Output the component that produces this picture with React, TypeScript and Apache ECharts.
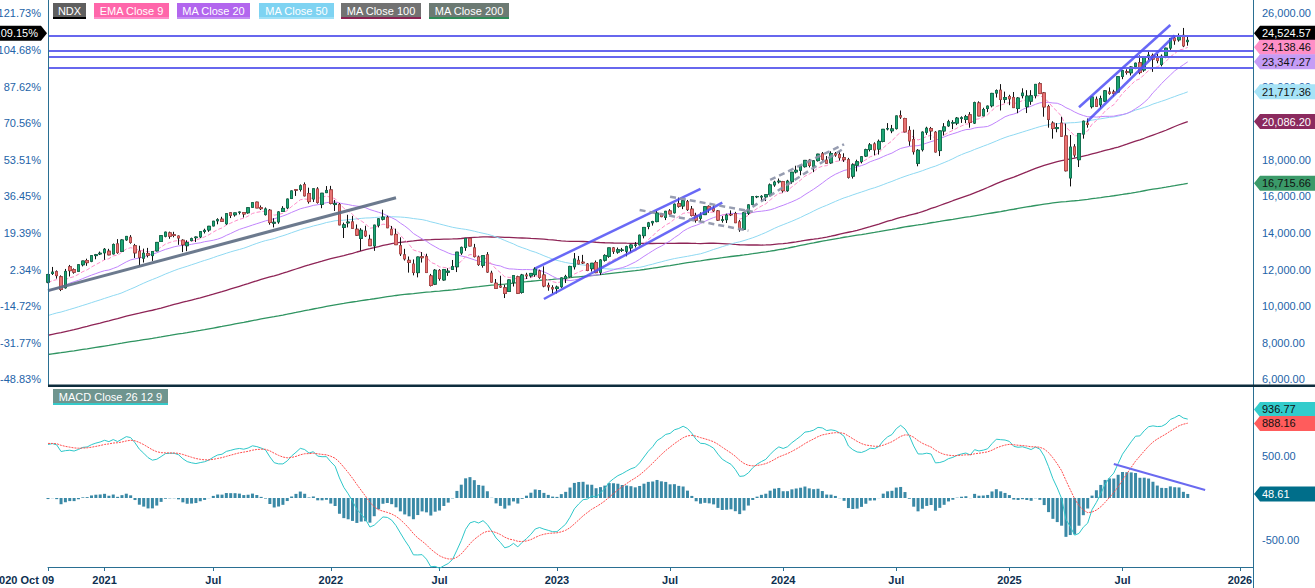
import React, { useEffect, useRef } from "react";
import * as echarts from "echarts";

const FONT = "'Liberation Sans', Arial, sans-serif";
const FS = 11;

// Weekly closes before the first visible bar (only used to warm up the averages and MACD)
const priorCloses2016 = [4930, 4940, 4864];
const priorCloses2017 = [4960, 5010, 5050, 5110, 5120, 5200, 5250, 5300, 5360, 5380, 5390, 5350, 5436, 5420, 5370, 5420, 5570, 5600, 5650, 5590, 5750, 5830, 5700, 5670, 5720, 5650, 5700, 5830, 5920, 5880, 5870, 5770, 5760, 5850, 5980, 5950, 5990, 5950, 5980, 6060, 6090, 6100, 6250, 6320, 6300, 6320, 6400, 6340, 6330, 6440, 6420, 6396];
const priorCloses2018 = [6650, 6800, 6880, 7050, 6770, 6450, 6770, 6880, 6800, 7140, 7010, 6500, 6580, 6460, 6650, 6680, 6600, 6770, 6940, 6870, 6990, 7090, 7150, 7200, 7130, 7040, 7170, 7400, 7350, 7220, 7300, 7340, 7300, 7450, 7660, 7510, 7510, 7470, 7630, 7450, 7250, 7050, 6800, 6970, 6950, 6730, 6530, 6950, 6640, 6600, 5900, 6150];
const priorCloses2019 = [6350, 6600, 6780, 6760, 6900, 6930, 7080, 7120, 7100, 6920, 7300, 7210, 7380, 7500, 7570, 7590, 7780, 7850, 7520, 7460, 7310, 7130, 7430, 7490, 7600, 7670, 7800, 7920, 7830, 7960, 7740, 7640, 7650, 7490, 7690, 7860, 7900, 7880, 7700, 7780, 7850, 7930, 8020, 8200, 8280, 8370, 8300, 8400, 8400, 8500, 8700, 8760];
const priorCloses2020 = [8790, 8970, 9170, 9090, 8990, 9400, 9620, 9450, 8460, 8530, 7900, 6990, 7500, 7530, 8230, 8830, 8780, 8720, 9210, 9150, 9320, 9560, 9820, 9590, 10030, 9850, 10280, 10770, 10500, 10460, 10910, 11140, 11190, 11630, 12060, 11630, 11090, 10940, 11150, 11330];

// Visible weekly bars [open, high, low, close], from 2020-10-09
const bars2020 = [
  [11310, 11760, 11250, 11725.85], [11780, 12140, 11700, 11860], [11880, 11950, 11500, 11666], [11600, 11680, 10820, 10911],
  [11000, 12030, 10960, 11895], [12150, 12250, 11620, 11937], [11990, 12060, 11770, 11854], [11900, 12270, 11880, 12258],
  [12260, 12470, 12170, 12464], [12490, 12590, 12200, 12375], [12450, 12790, 12400, 12756], [12760, 12850, 12560, 12805],
  [12850, 12980, 12790, 12888],
];
const bars2021 = [
  [12910, 13170, 12530, 13105], [13000, 13130, 12780, 12803], [12850, 13420, 12830, 13367], [13400, 13660, 12860, 12925],
  [12990, 13650, 12960, 13613], [13620, 13830, 13570, 13808], [13760, 13880, 13410, 13475], [13300, 13400, 12630, 12909],
  [13000, 13300, 12210, 12668], [12620, 13140, 12380, 12889], [12870, 13180, 12660, 12780], [12760, 12990, 12470, 12984],
  [13020, 13500, 12990, 13480], [13530, 13850, 13520, 13846], [13820, 14060, 13760, 14041], [14000, 14070, 13680, 13818],
  [13900, 14060, 13760, 13860], [13830, 13850, 13350, 13720], [13600, 13650, 12950, 13355], [13300, 13600, 13000, 13470],
  [13580, 13740, 13540, 13686], [13740, 13800, 13500, 13773], [13780, 14080, 13720, 14069], [14080, 14230, 13970, 14139],
  [14160, 14380, 14060, 14360], [14380, 14640, 14370, 14639], [14660, 14800, 14470, 14720], [14750, 14880, 14600, 14634],
  [14500, 15070, 14440, 15050], [15100, 15120, 14810, 14960], [14990, 15100, 14890, 15092], [15130, 15160, 15010, 15132],
  [15110, 15140, 14840, 15032], [15100, 15400, 15050, 15374], [15400, 15680, 15380, 15653], [15680, 15700, 15360, 15365],
  [15380, 15500, 15250, 15325], [15000, 15390, 14950, 15308], [15240, 15300, 14450, 14567], [14530, 14800, 14300, 14580],
  [14600, 15180, 14500, 15146], [15170, 15460, 15150, 15337], [15370, 15860, 15300, 15850], [15880, 16310, 15850, 16294],
  [16360, 16380, 16020, 16336], [16370, 16650, 16260, 16573], [16640, 16760, 16000, 16026], [16150, 16470, 15600, 15712],
  [15850, 16410, 15690, 16410], [16400, 16500, 15600, 15666], [15560, 16170, 15350, 16167], [16200, 16560, 16200, 16320],
];
const bars2022 = [
  [16350, 16570, 15560, 15612], [15550, 15800, 15200, 15611], [15550, 15630, 14430, 14438], [14300, 14560, 13720, 14440],
  [14550, 14990, 14300, 14592], [14600, 14930, 14250, 14253], [14200, 14460, 13840, 13878], [13700, 14260, 13020, 14142],
  [14100, 14390, 13780, 13838], [13650, 13900, 13300, 13302], [13290, 14430, 13020, 14426], [14420, 14790, 14300, 14767],
  [14750, 15270, 14680, 14862], [14850, 14940, 14280, 14281], [14200, 14380, 13890, 13898], [13920, 14230, 13350, 13357],
  [13300, 13760, 12740, 12855], [12800, 13130, 12490, 12581], [12500, 12710, 11830, 12387], [12300, 12550, 11680, 11835],
  [11830, 12700, 11570, 12682], [12700, 12950, 12380, 12644], [12700, 12860, 11830, 11834], [11650, 11760, 11070, 11128],
  [11200, 12020, 11150, 11960], [11950, 12020, 11390, 11507], [11430, 12030, 11390, 11994], [11850, 12070, 11650, 11910],
  [12000, 12520, 11980, 12159], [12150, 12950, 11860, 12947], [12900, 13250, 12800, 13207], [13200, 13720, 13020, 13700],
  [13700, 13720, 13270, 13285], [13180, 13400, 12660, 12705], [12680, 12760, 12200, 12270], [12230, 12780, 12100, 12759],
  [12800, 12950, 11820, 11861], [11800, 11930, 11290, 11311], [11250, 11480, 10970, 10971], [11100, 11660, 10990, 11040],
  [11000, 11170, 10440, 10693], [10800, 11450, 10790, 11430], [11300, 11670, 11070, 11666], [11600, 11660, 10660, 10700],
  [10750, 11760, 10680, 11700], [11700, 11820, 11480, 11650], [11650, 11800, 11560, 11785], [11720, 12120, 11600, 12022],
  [11920, 11990, 11490, 11566], [11700, 12170, 11030, 11100], [11130, 11280, 10840, 11052], [11000, 11140, 10690, 10940],
];
const bars2023 = [
  [10960, 11120, 10690, 11040], [11060, 11560, 11000, 11540], [11500, 11710, 11260, 11620], [11600, 12200, 11560, 12167],
  [12150, 12900, 12000, 12574], [12500, 12740, 12290, 12305], [12400, 12800, 12300, 12358], [12300, 12350, 11910, 11950],
  [12050, 12350, 11890, 12340], [12380, 12490, 11800, 11830], [11850, 12560, 11700, 12520], [12510, 12830, 12430, 12767],
  [12720, 13180, 12640, 13181], [13180, 13230, 12850, 13000], [12950, 13200, 12860, 13080], [13050, 13180, 12960, 13060],
  [13000, 13300, 12720, 13246], [13180, 13370, 12950, 13339], [13320, 13500, 13200, 13340], [13350, 13900, 13320, 13874],
  [13850, 14300, 13700, 14298], [14350, 14600, 14200, 14547], [14550, 14660, 14400, 14619], [14620, 15200, 14580, 15083],
  [15060, 15090, 14860, 14891], [14850, 15200, 14700, 15179], [15200, 15300, 14990, 15035], [15100, 15600, 15060, 15566],
  [15600, 15930, 15380, 15457], [15470, 15800, 15300, 15757], [15700, 15800, 15200, 15274], [15300, 15470, 14900, 14950],
  [14950, 15100, 14560, 14694], [14800, 15120, 14600, 14941], [15000, 15470, 14990, 15431], [15450, 15500, 15100, 15290],
  [15340, 15500, 15150, 15203], [15200, 15250, 14660, 14701], [14690, 14920, 14560, 14715], [14720, 15050, 14540, 14974],
  [15000, 15230, 14920, 14996], [15050, 15150, 14550, 14558], [14600, 14700, 14060, 14180], [14200, 15120, 14150, 15099],
  [15080, 15550, 14980, 15530], [15550, 16000, 15530, 15983], [15980, 16030, 15900, 15982], [15960, 16060, 15750, 15997],
  [15970, 16100, 15740, 16085], [16100, 16700, 16000, 16623], [16620, 16850, 16520, 16777], [16790, 16970, 16700, 16826],
];
const bars2024 = [
  [16800, 16840, 16200, 16305], [16310, 16900, 16250, 16832], [16800, 17330, 16680, 17314], [17330, 17670, 17250, 17421],
  [17420, 17670, 17150, 17642], [17620, 17970, 17570, 17962], [17970, 18040, 17580, 17685], [17640, 17980, 17320, 17937],
  [17950, 18320, 17900, 18302], [18320, 18420, 17950, 18019], [17980, 18200, 17800, 17808], [17830, 18460, 17780, 18339],
  [18320, 18420, 18160, 18255], [18280, 18470, 17950, 18108], [18110, 18350, 17880, 18003], [18000, 18100, 16970, 17037],
  [17100, 17800, 16970, 17718], [17700, 18000, 17360, 17890], [17900, 18200, 17800, 18161], [18200, 18600, 18150, 18546],
  [18560, 18910, 18450, 18808], [18860, 18950, 18240, 18537], [18580, 19100, 18280, 19000], [19000, 19670, 18950, 19659],
  [19680, 20000, 19600, 19700], [19580, 19900, 19450, 19683], [19700, 20400, 19650, 20392], [20400, 20690, 20230, 20331],
  [20250, 20290, 19500, 19523], [19600, 19830, 18760, 19023], [19100, 19640, 18280, 18440], [17800, 18580, 17640, 18513],
  [18550, 19540, 18450, 19508], [19500, 19800, 19360, 19720], [19700, 19790, 19080, 19575], [19500, 19560, 18400, 18421],
  [18500, 19590, 18200, 19573], [19570, 20000, 19320, 19791], [19850, 20180, 19800, 20073], [20000, 20160, 19670, 20034],
  [20000, 20330, 19890, 20272], [20250, 20370, 20010, 20290], [20200, 20450, 20000, 20352], [20450, 20600, 19750, 20033],
  [20000, 21170, 19950, 21118], [21100, 21190, 20380, 20394], [20400, 20840, 20380, 20744], [20800, 20950, 20600, 20930],
  [20950, 21650, 20860, 21622], [21640, 21840, 21400, 21780], [21800, 22130, 20690, 21289], [21300, 21720, 21100, 21393],
];
const bars2025 = [
  [21450, 21550, 20980, 21326], [21400, 21700, 20850, 20847], [20800, 21420, 20540, 21370], [21500, 21900, 21350, 21641],
  [20900, 21800, 20550, 21478], [21200, 21800, 21000, 21491], [21500, 22130, 21350, 22115], [22150, 22230, 21600, 21614],
  [21650, 21700, 20350, 20884], [20900, 21000, 19750, 20202], [20000, 20100, 19150, 19704], [19700, 20000, 19500, 19754],
  [20000, 20350, 19280, 19281], [19300, 19970, 17360, 17397], [17000, 19350, 16540, 18690], [18700, 18850, 18120, 18258],
  [18000, 19450, 17600, 19433], [19400, 20130, 19150, 20103], [20000, 20250, 19750, 19929], [20900, 21460, 20800, 21427],
  [21300, 21450, 20880, 20915], [21000, 21500, 20800, 21340], [21200, 21800, 21150, 21761], [21700, 21950, 21550, 21631],
  [21700, 21820, 21450, 21626], [21700, 22550, 21650, 22534], [22550, 22880, 22400, 22867], [22800, 22940, 22650, 22780],
  [22750, 23100, 22600, 23066], [23100, 23300, 22950, 23272], [23300, 23700, 22670, 22763], [22900, 23650, 22800, 23611],
  [23650, 23960, 23450, 23713], [23700, 23800, 22800, 23498], [23550, 23780, 23270, 23415], [23200, 23750, 23100, 23653],
  [23700, 24120, 23550, 24092], [24100, 24650, 24000, 24627], [24650, 24800, 24280, 24504], [24550, 24900, 24450, 24785],
  [24800, 25200, 24150, 24221], [24450, 24780, 24230, 24524.57],
];

// Last values shown in the axis tags
const priceTagValues = [24524.57, 24138.46, 23347.27, 21717.36, 20086.2, 16715.66];
const macdTagValues = [936.77, 888.16, 48.61];
// Right-axis tick values that sit fully behind a tag
const coveredPriceTicks = [20000, 24000];

// Horizontal levels and drawn trend lines: [bar index, price] pairs
const horizontalLevels = [24776, 23956, 23612, 23027];
const solidGrayLines = [[0, 10843, 80, 15924]];
const blueLines = [
  [112, 12067, 150, 16400],
  [114, 10389, 155, 15651],
  [237, 20864, 258, 25361],
  [239, 20115, 259, 24787],
];
const dashedGrayLines = [
  [143, 15979, 162, 15160],
  [136, 15252, 161, 14121],
  [166, 16892, 183, 18842],
  [160, 15127, 183, 18624],
];
const macdTrendLine = [245, 405, 266, 95];

// x axis
const FIRST_LABEL = "2020 Oct 09";
const SLOT_COUNT = 278;
const yearTickDates = ["2021-01-08", "2022-01-07", "2023-01-06", "2024-01-05", "2025-01-03", "2026-01-09"];
const julyTickDates = ["2021-07-02", "2022-07-01", "2023-07-07", "2024-07-05", "2025-07-04"];

const legendNames = ["NDX", "EMA Close 9", "MA Close 20", "MA Close 50", "MA Close 100", "MA Close 200"];
const macdName = "MACD Close 26 12 9";

export default function App() {
  const ref = useRef<HTMLDivElement>(null);

  useEffect(() => {
    document.body.style.margin = "0";
    const chart = echarts.init(ref.current!, null, { renderer: "svg" });

    const bars = [...bars2020, ...bars2021, ...bars2022, ...bars2023, ...bars2024, ...bars2025];
    const prior = [...priorCloses2016, ...priorCloses2017, ...priorCloses2018, ...priorCloses2019, ...priorCloses2020];
    const closes = bars.map((b) => b[3]);
    const all = [...prior, ...closes];
    const P = prior.length;
    const base = closes[0];

    const dates: string[] = [];
    for (let i = 0; i < SLOT_COUNT; i++) {
      dates.push(new Date(Date.UTC(2020, 9, 9 + 7 * i)).toISOString().slice(0, 10));
    }
    const yearSet = new Set(yearTickDates);
    const julSet = new Set(julyTickDates);
    const labelFor = (idx: number) =>
      idx === 0 ? FIRST_LABEL : yearSet.has(dates[idx]) ? dates[idx].slice(0, 4) : julSet.has(dates[idx]) ? "Jul" : "";

    const sma = (n: number) =>
      closes.map((_, i) => {
        const j = P + i;
        let s = 0;
        for (let k = j - n + 1; k <= j; k++) s += all[k];
        return +(s / n).toFixed(2);
      });
    const ema = (arr: number[], n: number) => {
      const a = 2 / (n + 1);
      const out: number[] = [];
      let e = arr[0];
      arr.forEach((v, i) => {
        e = i === 0 ? v : a * v + (1 - a) * e;
        out.push(e);
      });
      return out;
    };
    const ema9 = ema(all, 9).slice(P).map((v) => +v.toFixed(2));
    const e12 = ema(all, 12);
    const e26 = ema(all, 26);
    const macdAll = e12.map((v, i) => v - e26[i]);
    const sigAll = ema(macdAll, 9);
    const macd = macdAll.slice(P).map((v) => +v.toFixed(2));
    const signal = sigAll.slice(P).map((v) => +v.toFixed(2));
    const histo = macd.map((v, i) => +(v - signal[i]).toFixed(2));

    const wickData = bars.map(([o, h, l, c]) => [o, c, l, h]);
    const bodyData = bars.map(([o, , , c]) => [o, c, Math.min(o, c), Math.max(o, c)]);

    const seg = (s: number[], style: any) => [
      { coord: [s[0], s[1]], lineStyle: style },
      { coord: [s[2], s[3]] },
    ];
    const blueStyle = { color: "#4f4ff5", width: 2.5, type: "solid", opacity: 0.85 };
    const grayStyle = { color: "#5c6b82", width: 3, type: "solid", opacity: 0.9 };
    const dashStyle = { color: "#8c92a8", width: 2.5, type: [6, 4], opacity: 0.9 };
    const levelStyle = { color: "#6767ee", width: 2, type: "solid" };

    const axisColor = "#2a6f92";
    const labelColor = "#2363a8";
    const gridBase = { left: 48, width: 1205, containLabel: false, outerBoundsMode: "none" };
    const hiddenX = (gridIndex: number) => ({
      type: "category",
      gridIndex,
      data: dates,
      boundaryGap: false,
      show: false,
    });
    const fmt = (v: number) => v.toLocaleString("en-US", { minimumFractionDigits: 2, maximumFractionDigits: 2 });
    const xLabelStyle = { color: "#0d2f4f", fontWeight: "bold", fontSize: FS, fontFamily: FONT };
    const yLabelStyle = { color: labelColor, fontSize: FS, fontFamily: FONT };

    const option: any = {
      animation: false,
      backgroundColor: "#ffffff",
      textStyle: { fontFamily: FONT },
      grid: [
        { ...gridBase, top: 13.3, height: 366 },
        { ...gridBase, top: 414, height: 168 },
        { ...gridBase, top: 386, height: 181 },
      ],
      xAxis: [
        hiddenX(0),
        hiddenX(1),
        {
          type: "category",
          gridIndex: 2,
          data: dates,
          boundaryGap: false,
          axisLine: { show: true, lineStyle: { color: axisColor, width: 1 } },
          axisTick: { show: true, length: 4, interval: (idx: number) => labelFor(idx) !== "", lineStyle: { color: axisColor } },
          axisLabel: {
            interval: (idx: number) => labelFor(idx) !== "",
            formatter: (_v: string, idx: number) => (idx === 0 ? `{first|${FIRST_LABEL}}` : labelFor(idx)),
            ...xLabelStyle,
            margin: 7,
            alignMinLabel: "right",
            showMinLabel: true,
            rich: { first: { ...xLabelStyle, width: 55, align: "left" } },
          },
          splitLine: { show: false },
        },
      ],
      yAxis: [
        {
          type: "value",
          gridIndex: 0,
          position: "right",
          min: 6000,
          max: 26000,
          interval: 2000,
          axisLine: { show: false },
          axisTick: { show: false },
          splitLine: { show: false },
          axisLabel: {
            ...yLabelStyle,
            margin: 9,
            formatter: (v: number) => (coveredPriceTicks.includes(v) ? "" : fmt(v)),
          },
        },
        {
          type: "value",
          gridIndex: 0,
          position: "left",
          min: 6000,
          max: 26000,
          interval: 2000,
          axisLine: { show: false },
          axisTick: { show: false },
          splitLine: { show: false },
          axisLabel: {
            ...yLabelStyle,
            margin: 7,
            formatter: (v: number) => ((v / base - 1) * 100).toFixed(2) + "%",
          },
        },
        {
          type: "value",
          gridIndex: 1,
          position: "right",
          min: -1000,
          max: 1000,
          interval: 500,
          axisLine: { show: false },
          axisTick: { show: false },
          splitLine: { show: false },
          axisLabel: {
            ...yLabelStyle,
            margin: 9,
            formatter: (v: number) => (Math.abs(v) === 500 ? v.toFixed(2) : ""),
          },
        },
        { type: "value", gridIndex: 2, show: false, min: 0, max: 1 },
      ],
      series: [
        { name: "MA Close 200", type: "line", xAxisIndex: 0, yAxisIndex: 0, data: sma(200), symbol: "none", z: 2, lineStyle: { color: "#2f9461", width: 1.3 } },
        { name: "MA Close 100", type: "line", xAxisIndex: 0, yAxisIndex: 0, data: sma(100), symbol: "none", z: 2, lineStyle: { color: "#8e2456", width: 1.3 } },
        { name: "MA Close 50", type: "line", xAxisIndex: 0, yAxisIndex: 0, data: sma(50), symbol: "none", z: 2, lineStyle: { color: "#8fd9f2", width: 1 } },
        { name: "MA Close 20", type: "line", xAxisIndex: 0, yAxisIndex: 0, data: sma(20), symbol: "none", z: 2, lineStyle: { color: "#c084fc", width: 1 } },
        { name: "EMA Close 9", type: "line", xAxisIndex: 0, yAxisIndex: 0, data: ema9, symbol: "none", z: 2, lineStyle: { color: "#ff8cc8", width: 1, type: [4, 2] } },
        {
          name: "NDX wicks",
          type: "candlestick",
          xAxisIndex: 0,
          yAxisIndex: 0,
          data: wickData,
          barWidth: 3,
          z: 3,
          itemStyle: { color: "#111", color0: "#111", borderColor: "#111", borderColor0: "#111", borderWidth: 1 },
        },
        {
          name: "NDX",
          type: "candlestick",
          xAxisIndex: 0,
          yAxisIndex: 0,
          data: bodyData,
          barWidth: 3,
          z: 4,
          itemStyle: { color: "#1ea574", color0: "#e87474", borderColor: "#127a55", borderColor0: "#c24e4e", borderWidth: 0.8 },
          markLine: {
            symbol: ["none", "none"],
            silent: true,
            animation: false,
            label: { show: false },
            emphasis: { disabled: true },
            data: [
              ...horizontalLevels.map((v) => ({ yAxis: v, lineStyle: levelStyle })),
              ...solidGrayLines.map((s) => seg(s, grayStyle)),
              ...blueLines.map((s) => seg(s, blueStyle)),
              ...dashedGrayLines.map((s) => seg(s, dashStyle)),
            ],
          },
        },
        {
          name: "Histogram",
          type: "bar",
          xAxisIndex: 1,
          yAxisIndex: 2,
          data: histo,
          barWidth: 3,
          itemStyle: { color: "#3a89a6" },
          z: 2,
          markLine: {
            symbol: ["none", "none"],
            silent: true,
            animation: false,
            label: { show: false },
            data: [seg(macdTrendLine, { color: "#6a6af0", width: 2, type: "solid" })],
          },
        },
        { name: "MACD", type: "line", xAxisIndex: 1, yAxisIndex: 2, data: macd, symbol: "none", z: 3, lineStyle: { color: "#2ec7c9", width: 1 } },
        { name: "Signal", type: "line", xAxisIndex: 1, yAxisIndex: 2, data: signal, symbol: "none", z: 3, lineStyle: { color: "#ff4d4d", width: 1, type: [2, 1] } },
      ],
    };

    chart.setOption(option);

    const toY = (axis: number, v: number) => chart.convertToPixel({ yAxisIndex: axis } as any, v) as number;
    const spread = (ys: number[], gap: number) => {
      const out = ys.slice();
      for (let k = out.length - 2; k >= 0; k--) if (out[k + 1] - out[k] < gap) out[k] = out[k + 1] - gap;
      return out;
    };
    const txt = (x: number, y: number, text: string, fill: string, align = "left") => ({
      type: "text",
      x,
      y,
      z: 101,
      style: { text, fill, font: `${FS}px ${FONT}`, textAlign: align, align, textVerticalAlign: "middle", verticalAlign: "middle" },
    });
    const rightTag = (y: number, text: string, bg: string, fg: string) => [
      {
        type: "polygon",
        z: 100,
        shape: { points: [[1254, y], [1260, y - 7.5], [1315, y - 7.5], [1315, y + 7.5], [1260, y + 7.5]] },
        style: { fill: bg },
      },
      txt(1262, y, text, fg),
    ];

    const priceColors = [
      ["#000000", "#ffffff"],
      ["#ff8fc7", "#111111"],
      ["#c59cf5", "#111111"],
      ["#a6e3f7", "#111111"],
      ["#8b2a5e", "#ffffff"],
      ["#3b9a69", "#111111"],
    ];
    const macdColors = [
      ["#33cccc", "#111111"],
      ["#ff5c5c", "#111111"],
      ["#006e8a", "#ffffff"],
    ];
    const priceYs = spread(priceTagValues.map((v) => toY(0, v)), 14);
    const macdYs = spread(macdTagValues.map((v) => toY(2, v)), 14);

    const legendBoxes = [
      { x: 53, w: 33, bg: "#5f5f5f", line: "#000000" },
      { x: 94, w: 75, bg: "#ff66aa", line: "#ff8cc8" },
      { x: 177, w: 73, bg: "#b266ee", line: "#c38df3" },
      { x: 259, w: 75, bg: "#7ed3f2", line: "#9fe0f6" },
      { x: 341, w: 80, bg: "#727272", line: "#8b2252" },
      { x: 429, w: 80, bg: "#6c7a73", line: "#2e8b57" },
    ];

    const elements: any[] = [
      { type: "line", z: 90, shape: { x1: 48.5, y1: 0, x2: 48.5, y2: 385 }, style: { stroke: axisColor, lineWidth: 1 } },
      { type: "line", z: 90, shape: { x1: 1253.5, y1: 0, x2: 1253.5, y2: 588 }, style: { stroke: axisColor, lineWidth: 1 } },
      { type: "rect", z: 90, shape: { x: 48, y: 384.5, width: 1267, height: 2.5 }, style: { fill: "#0e2d3d" } },
    ];
    legendBoxes.forEach((b, k) => {
      elements.push({ type: "rect", z: 100, shape: { x: b.x, y: 3, width: b.w, height: 14 }, style: { fill: b.bg } });
      elements.push({ type: "rect", z: 100, shape: { x: b.x, y: 17, width: b.w, height: 2 }, style: { fill: b.line } });
      elements.push(txt(b.x + b.w / 2, 10.5, legendNames[k], "#ffffff", "center"));
    });
    elements.push({ type: "rect", z: 100, shape: { x: 53, y: 389, width: 115, height: 14 }, style: { fill: "#6f958f" } });
    elements.push({ type: "rect", z: 100, shape: { x: 53, y: 403, width: 115, height: 2 }, style: { fill: "#35c9c9" } });
    elements.push(txt(110.5, 396.5, macdName, "#ffffff", "center"));

    priceTagValues.forEach((v, k) => elements.push(...rightTag(priceYs[k], fmt(v), priceColors[k][0], priceColors[k][1])));
    macdTagValues.forEach((v, k) => elements.push(...rightTag(macdYs[k], fmt(v), macdColors[k][0], macdColors[k][1])));

    const ly = priceYs[0];
    const pct = ((priceTagValues[0] / base - 1) * 100).toFixed(2) + "%";
    elements.push({
      type: "polygon",
      z: 100,
      shape: { points: [[-2, ly - 7.5], [41, ly - 7.5], [47, ly], [41, ly + 7.5], [-2, ly + 7.5]] },
      style: { fill: "#000000" },
    });
    elements.push(txt(38, ly, pct, "#ffffff", "right"));

    chart.setOption({ graphic: elements });

    return () => chart.dispose();
  }, []);

  return <div ref={ref} style={{ position: "fixed", left: 0, top: 0, width: 1315, height: 588, background: "#fff" }} />;
}
